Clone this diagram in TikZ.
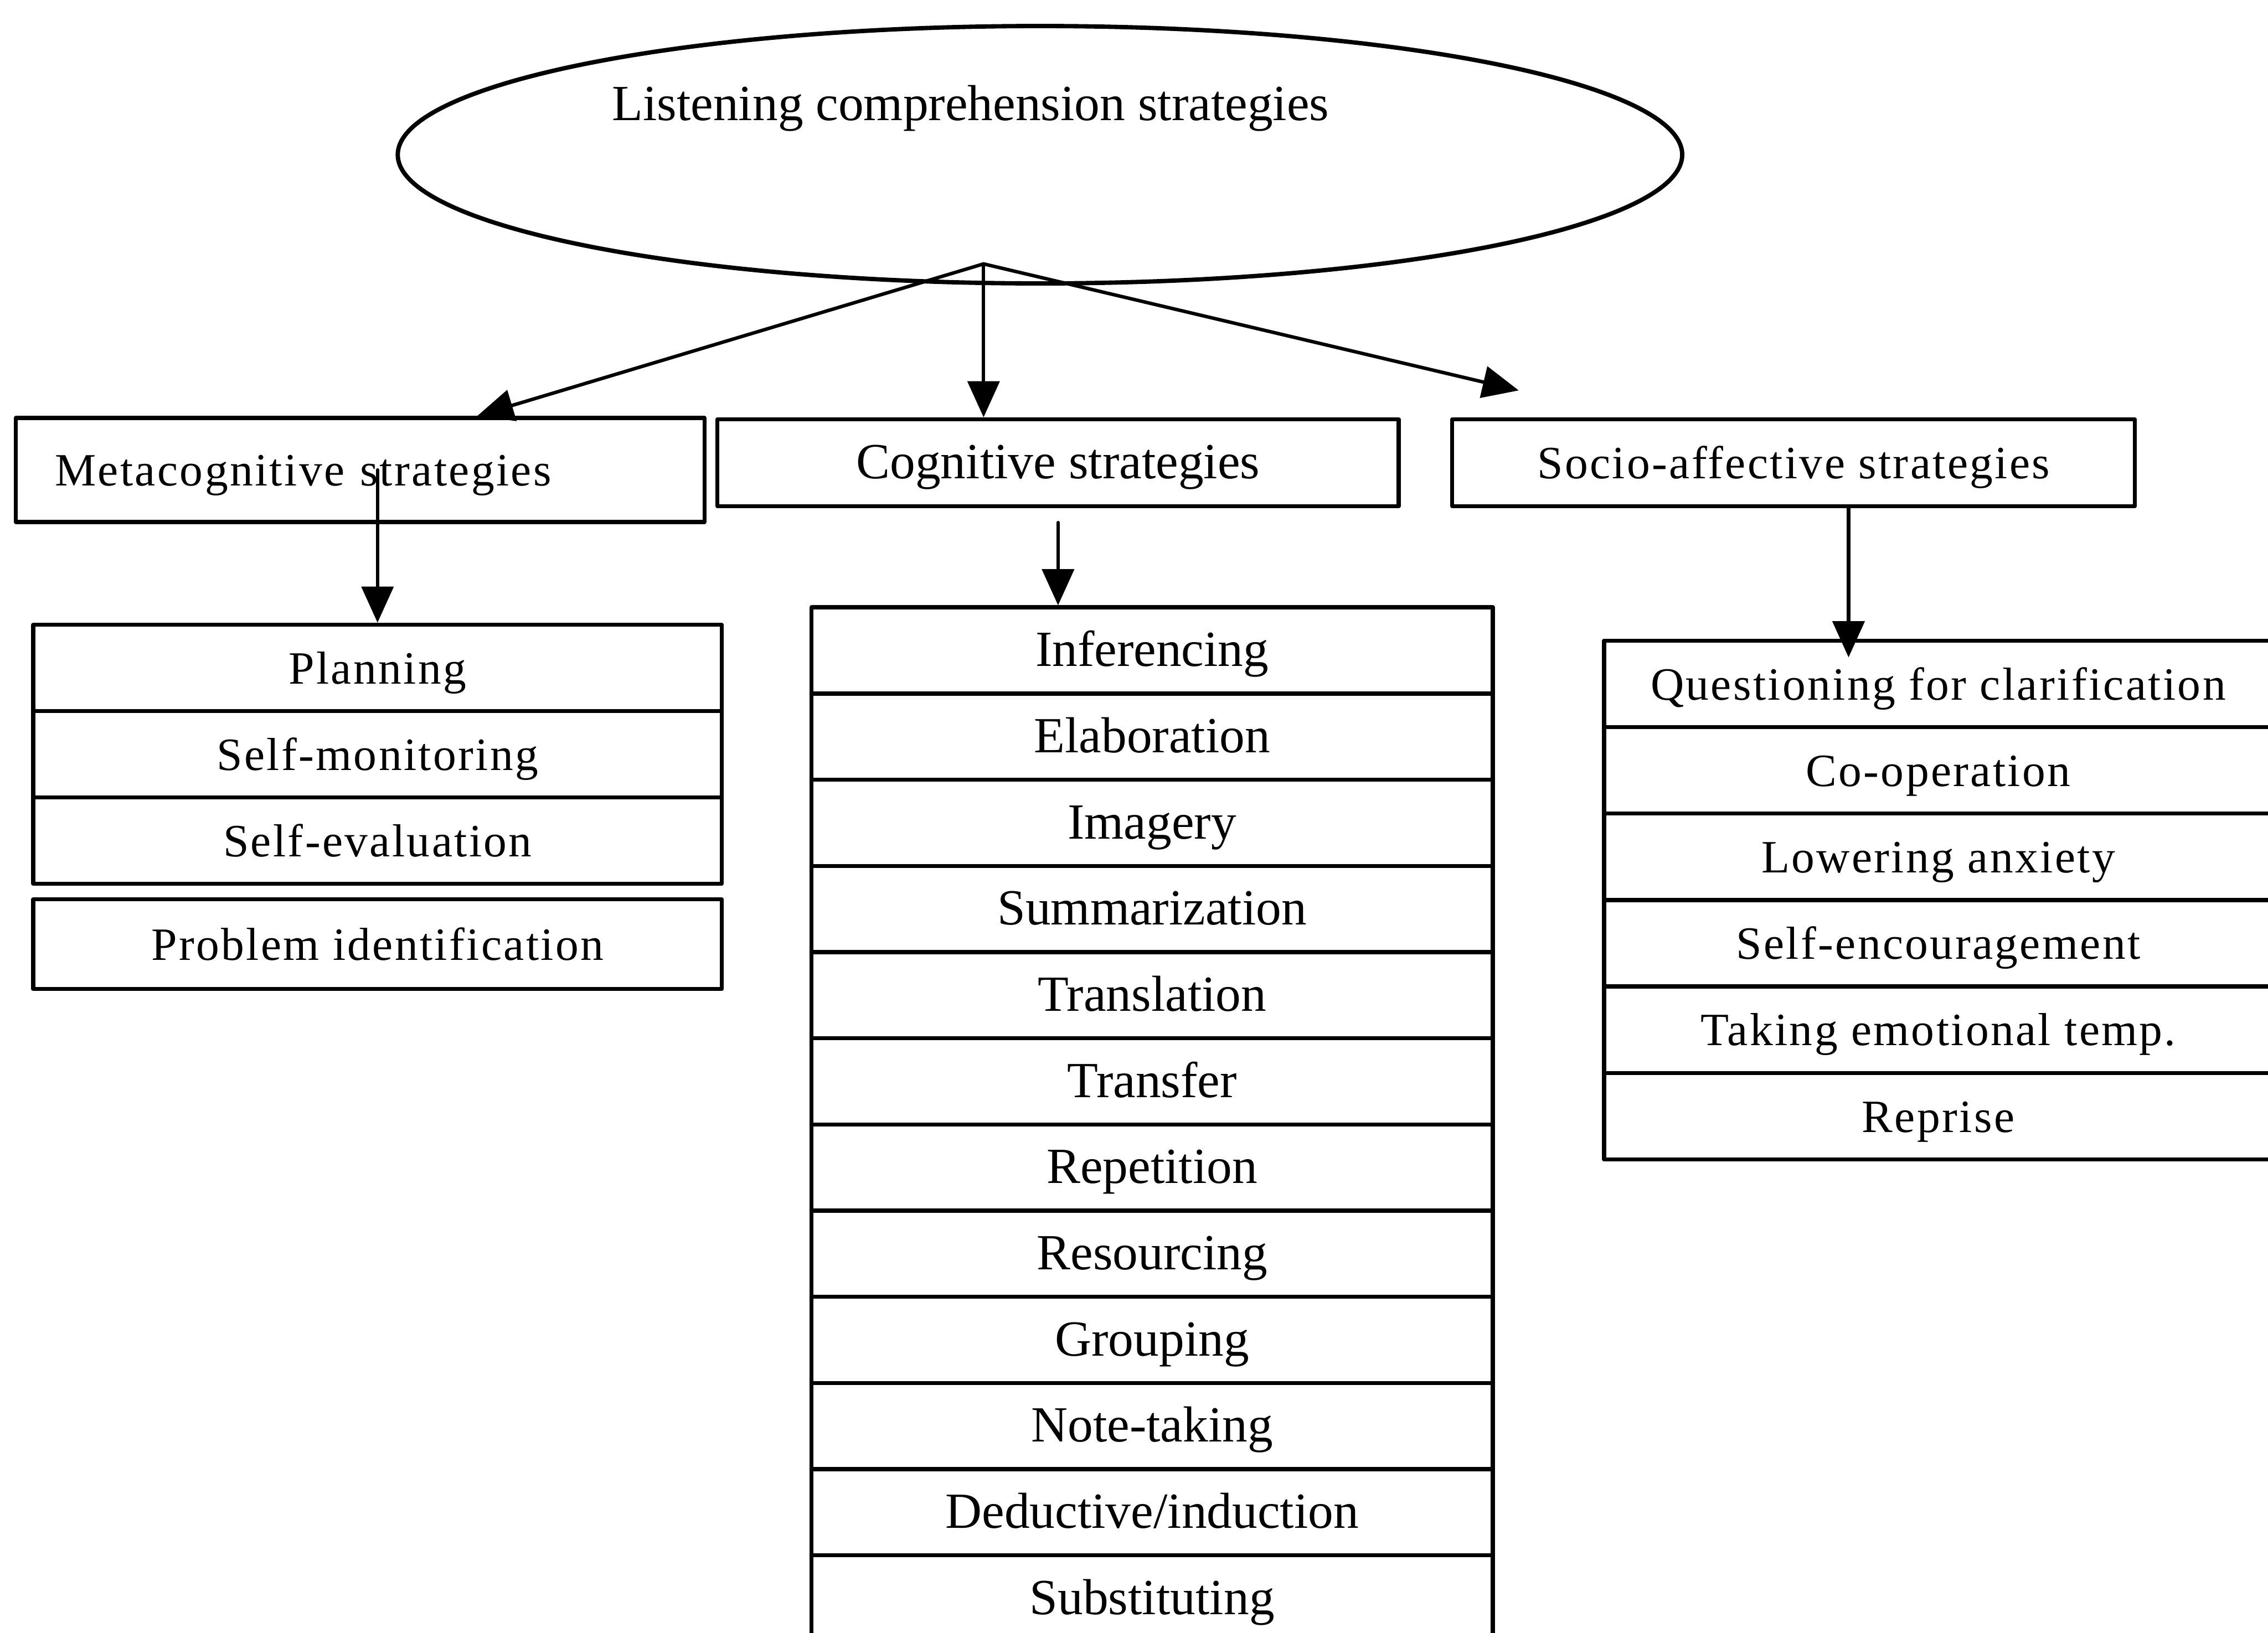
\documentclass[tikz,border=0pt]{standalone}
\usepackage{fontspec}
\setmainfont{Liberation Serif}
\newfontfamily\spacedserif[LetterSpace=4]{Liberation Serif}
\usetikzlibrary{arrows.meta,shapes.geometric}

\begin{document}
\begin{tikzpicture}[x=1pt,y=-1pt,line cap=round,line join=round,
    box/.style={draw,line width=2.8pt,inner sep=0pt,text height=24pt,text depth=2pt},
    narrowtxt/.style={font=\fontsize{35}{35}\selectfont},
    widetxt/.style={font=\spacedserif\fontsize{32}{32}\selectfont},
    arr/.style={line width=2.4pt,-{Triangle[length=25pt,width=22pt]}}]
    \path[use as bounding box] (0,0) rectangle (1568,1129);

    % top ellipse
    \node[ellipse,draw,line width=3pt,minimum width=888pt,minimum height=178pt] (lcs) at (719,107) {};
    \node[narrowtxt] (lcstext) at (671,75) {Listening comprehension strategies};
    \coordinate (apex) at ([xshift=-39pt,yshift=15pt]lcs.south);

    % three groups
    \node[box,widetxt,minimum width=476pt,minimum height=72pt,text width=422pt,align=left] (meta) at (249,325) {Metacognitive strategies};
    \node[box,narrowtxt,minimum width=471pt,minimum height=60pt] (cog) at (731.5,320) {Cognitive strategies};
    \node[box,widetxt,minimum width=472pt,minimum height=60pt] (socio) at (1240,320) {Socio-affective strategies};

    % metacognitive list
    \foreach \name/\txt [count=\i] in {plan/Planning,smon/Self-monitoring,seval/Self-evaluation}
        \node[box,widetxt,minimum width=476pt,minimum height=59.7pt] (\name) at (261,402.15+59.7*\i) {\txt};
    \node[box,widetxt,minimum width=476pt,minimum height=62pt] (probid) at (261,653) {Problem identification};

    % cognitive list
    \foreach \name/\txt [count=\i] in {inf/Inferencing,elab/Elaboration,imag/Imagery,summ/Summarization,
        transl/Translation,transf/Transfer,rep/Repetition,res/Resourcing,grp/Grouping,
        note/Note-taking,ded/{Deductive/induction},subst/Substituting}
        \node[box,narrowtxt,minimum width=471pt,minimum height=59.6pt] (\name) at (796.5,390.2+59.6*\i) {\txt};

    % socio-affective list
    \foreach \name/\txt [count=\i] in {quest/Questioning for clarification,coop/Co-operation,lowanx/Lowering anxiety,
        senc/Self-encouragement,temp/Taking emotional temp.,repr/Reprise}
        \node[box,widetxt,minimum width=462pt,minimum height=59.8pt] (\name) at (1340,413.1+59.8*\i) {\txt};

    % arrows
    \coordinate (sociotip) at (1050,270);
    \draw[arr] (apex) -- ([xshift=81pt]meta.north);
    \draw[arr] (apex) -- (apex |- cog.north);
    \draw[arr] (apex) -- (sociotip);
    \draw[arr] (plan.north |- meta.center) -- (plan.north);
    \draw[arr] ([yshift=-10pt]cog.south) -- (cog.south |- inf.north);
    \coordinate (sociofoot) at ([xshift=38pt]socio.south);
    \draw[arr,shorten >=-13pt] (sociofoot) -- (sociofoot |- quest.north);
\end{tikzpicture}
\end{document}
